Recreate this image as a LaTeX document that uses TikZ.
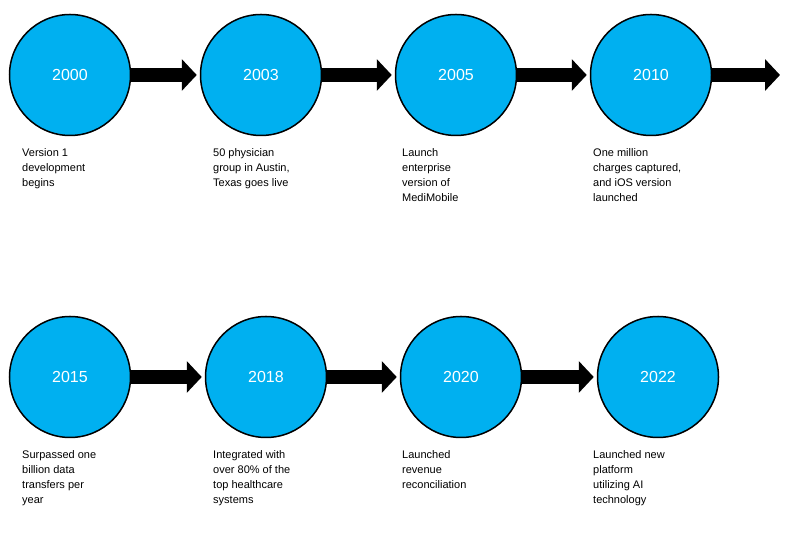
\documentclass[tikz,border=0pt]{standalone}
\usepackage{fontspec}
\setmainfont{Liberation Sans}
\usetikzlibrary{arrows.meta}
\definecolor{yearblue}{HTML}{00B0F0}
\tikzset{
  year/.style={circle,draw=black,line width=1.5pt,fill=yearblue,minimum size=121pt,inner sep=0pt,text=white,font=\fontsize{16}{19}\selectfont},
  note/.style={anchor=north west,align=left,inner sep=0pt,font=\fontsize{11}{15}\selectfont},
  jump/.style={line width=14pt,-{Triangle[length=15pt,width=31pt]},shorten >=3pt}
}
\begin{document}
\begin{tikzpicture}[x=1pt,y=1pt]
\useasboundingbox (0,0) rectangle (790,548);
% first row
\node[year] (y2000) at (70,473) {2000};
\node[year] (y2003) at (261,473) {2003};
\node[year] (y2005) at (456,473) {2005};
\node[year] (y2010) at (651,473) {2010};
\coordinate (tail) at (780,473);
\node[note] (n2000) at (22,400) {Version 1\\development\\begins};
\node[note] (n2003) at (213,400) {50 physician\\group in Austin,\\Texas goes live};
\node[note] (n2005) at (402,400) {Launch\\enterprise\\version of\\MediMobile};
\node[note] (n2010) at (593,400) {One million\\charges captured,\\and iOS version\\launched};
\draw[jump] (y2000.east) -- (y2003.west);
\draw[jump] (y2003.east) -- (y2005.west);
\draw[jump] (y2005.east) -- (y2010.west);
\draw[jump,shorten >=0pt] (y2010.east) -- (tail);
% second row
\node[year] (y2015) at (70,171) {2015};
\node[year] (y2018) at (266,171) {2018};
\node[year] (y2020) at (461,171) {2020};
\node[year] (y2022) at (658,171) {2022};
\node[note] (n2015) at (22,98) {Surpassed one\\billion data\\transfers per\\year};
\node[note] (n2018) at (213,98) {Integrated with\\over 80\% of the\\top healthcare\\systems};
\node[note] (n2020) at (402,98) {Launched\\revenue\\reconciliation};
\node[note] (n2022) at (593,98) {Launched new\\platform\\utilizing AI\\technology};
\draw[jump] (y2015.east) -- (y2018.west);
\draw[jump] (y2018.east) -- (y2020.west);
\draw[jump] (y2020.east) -- (y2022.west);
\end{tikzpicture}
\end{document}
